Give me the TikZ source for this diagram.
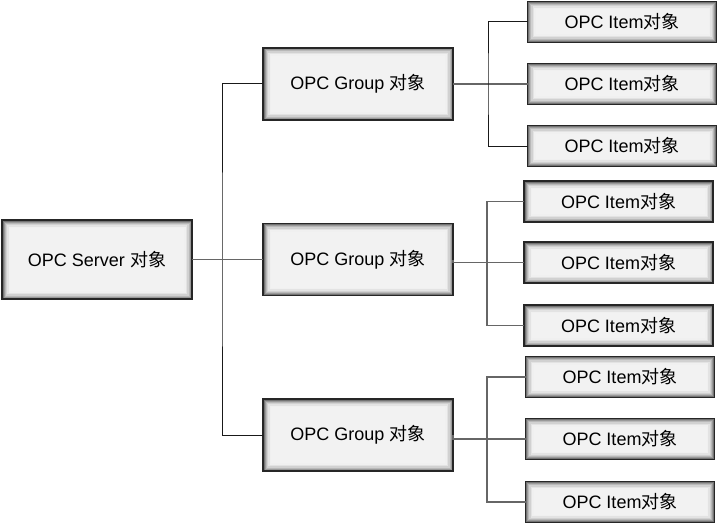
\documentclass[tikz,border=0pt]{standalone}
\usepackage{fontspec}
\setmainfont{Liberation Sans}
\newfontfamily\cjk{Noto Sans CJK SC}
\usetikzlibrary{calc}
\newcommand{\dx}{{\cjk 对象}}

\begin{document}
\begin{tikzpicture}[x=1pt, y=-1pt]

    \tikzstyle{obj}=[rectangle, draw=black!85, line width=1.4pt, fill=black!5, inner sep=0pt, outer sep=0pt,
        font=\fontsize{18}{20}\selectfont,
        path picture={
            \foreach \w/\c in {16/6, 13/11, 10/18, 7/28, 5/40, 3/55}
                \draw[black!\c, line width=\w pt] (path picture bounding box.south west) rectangle (path picture bounding box.north east);
        }];
    \tikzstyle{server}=[obj, minimum width=190pt, minimum height=79pt];
    \tikzstyle{group}=[obj, minimum width=190pt, minimum height=72pt];
    \tikzstyle{item}=[obj, minimum width=189pt, minimum height=41pt];
    \tikzstyle{trunk}=[black!90, line width=1pt];
    \tikzstyle{bus}=[black!60, line width=1.2pt];

    \useasboundingbox (0,0) rectangle (719,524);

    \node[server] (srv) at (97, 259.5) {OPC Server \dx};

    \node[group] (g1) at (358, 84) {OPC Group \dx};
    \node[group] (g2) at (358, 259.5) {OPC Group \dx};
    \node[group] (g3) at (358, 435) {OPC Group \dx};

    \node[item] (i11) at (622, 22) {OPC Item\dx};
    \node[item] (i12) at (622, 84) {OPC Item\dx};
    \node[item] (i13) at (622, 146) {OPC Item\dx};

    \node[item] (i21) at (618.5, 201.5) {OPC Item\dx};
    \node[item] (i22) at (618.5, 262.5) {OPC Item\dx};
    \node[item] (i23) at (618.5, 325.5) {OPC Item\dx};

    \node[item] (i31) at (620, 377) {OPC Item\dx};
    \node[item] (i32) at (620, 439) {OPC Item\dx};
    \node[item] (i33) at (620, 502) {OPC Item\dx};

    \coordinate (t) at (222, 259.5);
    \coordinate (b1) at (488, 84);
    \coordinate (b2) at (487, 262.5);
    \coordinate (b3) at (487, 439);

    \draw[trunk] (g1.west) -| (t) |- (g3.west);
    \draw[bus] (srv.east) -- (g2.west);

    \draw[bus] (g1.east) -- (i12.west);
    \draw[trunk] (i11.west) -| (b1) |- (i13.west);

    \draw[bus] (g2.east) |- (i22.west);
    \draw[bus] (i21.west) -| (b2) |- (i23.west);

    \draw[bus] (g3.east) |- (i32.west);
    \draw[bus] (i31.west) -| (b3) |- (i33.west);

\end{tikzpicture}
\end{document}
